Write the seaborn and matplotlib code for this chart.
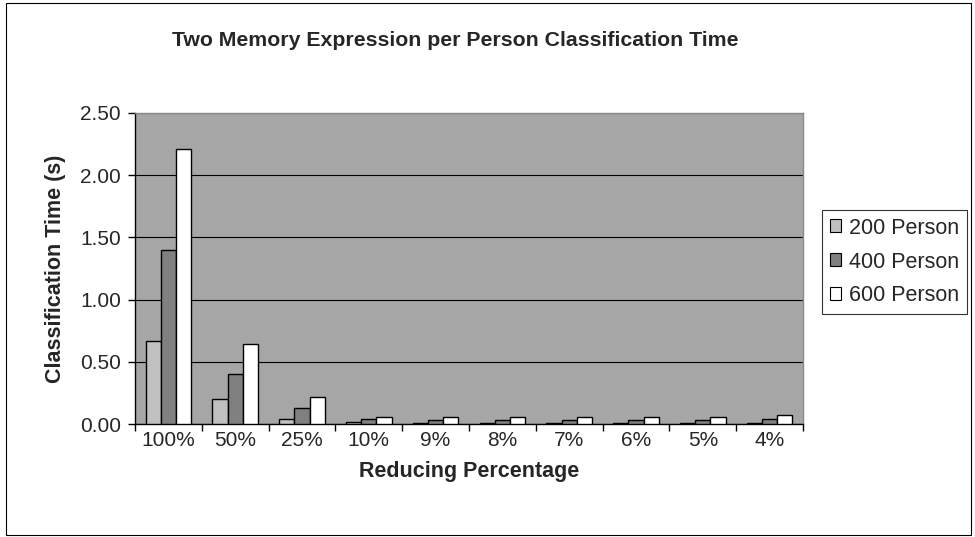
import matplotlib
matplotlib.use("Agg")
import matplotlib.pyplot as plt
import seaborn as sns
import pandas as pd
import numpy as np
from matplotlib.patches import Patch

categories = ["100%", "50%", "25%", "10%", "9%", "8%", "7%", "6%", "5%", "4%"]
series_names = ["200 Person", "400 Person", "600 Person"]
person_200 = [0.67, 0.20, 0.04, 0.02, 0.01, 0.01, 0.01, 0.01, 0.01, 0.01]
person_400 = [1.40, 0.40, 0.13, 0.04, 0.03, 0.03, 0.03, 0.03, 0.03, 0.04]
person_600 = [2.21, 0.64, 0.22, 0.06, 0.06, 0.06, 0.06, 0.06, 0.06, 0.07]
y_ticks = [0.0, 0.5, 1.0, 1.5, 2.0, 2.5]

df = pd.DataFrame({
    "Reducing Percentage": categories * 3,
    "Series": [series_names[0]] * 10 + [series_names[1]] * 10 + [series_names[2]] * 10,
    "Time": person_200 + person_400 + person_600,
})

colors = {"200 Person": "#c0c0c0", "400 Person": "#808080", "600 Person": "#ffffff"}

sns.set_theme(style="white")
plt.rcParams["font.family"] = ["Liberation Sans", "DejaVu Sans"]

fig = plt.figure(figsize=(9.75, 5.37), dpi=100)
ax = fig.add_axes([135 / 975, 1 - 424 / 537, (803 - 135) / 975, (424 - 113) / 537])
ax.set_facecolor("#a6a6a6")

sns.barplot(data=df, x="Reducing Percentage", y="Time", hue="Series",
            palette=colors, width=0.68, gap=0.0, edgecolor="black",
            linewidth=1.0, ax=ax, legend=False, zorder=3)

ax.set_ylim(0, 2.5)
ax.set_xlim(-0.5, len(categories) - 0.5)
ax.set_yticks(y_ticks)
ax.set_yticklabels([f"{v:.2f}" for v in y_ticks], fontsize=15)
ax.yaxis.grid(True, color="black", linewidth=0.8, zorder=1)
ax.set_axisbelow(True)

ax.set_xticks(range(len(categories)))
ax.set_xticklabels(categories, fontsize=15)
ax.tick_params(axis="x", which="major", length=0, pad=5)
ax.set_xticks(np.arange(-0.5, len(categories), 1.0), minor=True)
ax.tick_params(axis="x", which="minor", length=5, width=1, color="black", direction="out", bottom=True)
ax.tick_params(axis="y", length=5, width=1, color="black", direction="out", left=True, pad=5)

for side in ["top", "right"]:
    ax.spines[side].set_color("#8a8a8a")
    ax.spines[side].set_linewidth(1.0)
for side in ["left", "bottom"]:
    ax.spines[side].set_color("black")
    ax.spines[side].set_linewidth(1.0)

ax.set_xlabel("Reducing Percentage", fontsize=15.5, fontweight="bold", labelpad=8)
ax.set_ylabel("Classification Time (s)", fontsize=15.5, fontweight="bold", labelpad=10)

fig.text(455 / 975, 1 - 40 / 537, "Two Memory Expression per Person Classification Time",
         ha="center", va="center", fontsize=15.3, fontweight="bold")

handles = [Patch(facecolor=colors[n], edgecolor="black", linewidth=0.8) for n in series_names]
leg = fig.legend(handles, series_names, loc="center left",
                 bbox_to_anchor=(822 / 975, 1 - 262 / 537), fontsize=15.5,
                 frameon=True, fancybox=False, edgecolor="black",
                 handlelength=0.55, handleheight=0.55, handletextpad=0.35,
                 labelspacing=0.6, borderpad=0.35, borderaxespad=0.0)
leg.get_frame().set_linewidth(0.8)

# outer chart border
fig.patches.append(plt.Rectangle((0.006, 0.004), 0.99, 0.99, transform=fig.transFigure,
                                 fill=False, edgecolor="black", linewidth=0.8))

fig.savefig("out.png", dpi=100)
